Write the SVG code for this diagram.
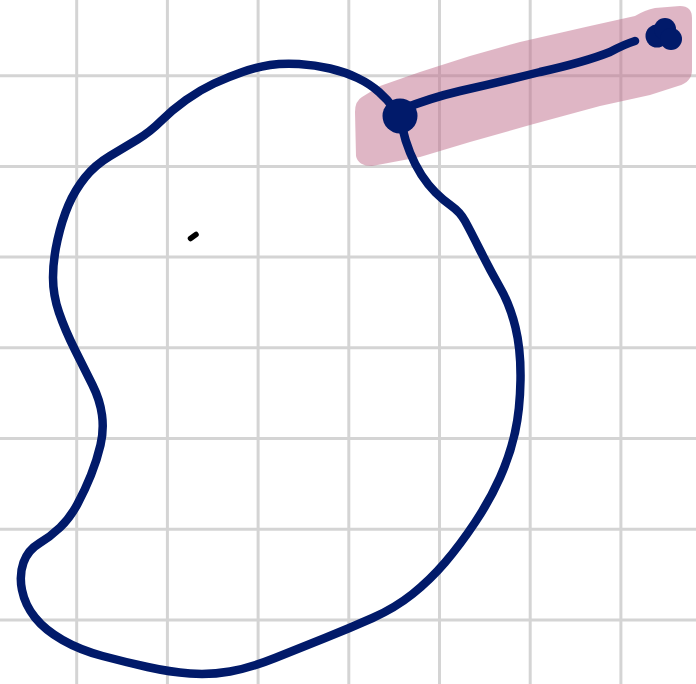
<svg xmlns="http://www.w3.org/2000/svg" width="696" height="684" viewBox="0 0 696 684">
<style>
.grid line{stroke:#d4d4d4;stroke-width:3}
.ink{fill:none;stroke:#011a6a;stroke-width:8.5;stroke-linecap:round;stroke-linejoin:round}
.dot{fill:#011a6a}
</style>
<rect width="696" height="684" fill="#ffffff"/>
<g class="grid" id="grid">
<line x1="76.7" y1="0" x2="76.7" y2="684"/>
<line x1="167.4" y1="0" x2="167.4" y2="684"/>
<line x1="258.1" y1="0" x2="258.1" y2="684"/>
<line x1="348.8" y1="0" x2="348.8" y2="684"/>
<line x1="439.5" y1="0" x2="439.5" y2="684"/>
<line x1="530.2" y1="0" x2="530.2" y2="684"/>
<line x1="620.9" y1="0" x2="620.9" y2="684"/>
<line x1="0" y1="75.7" x2="696" y2="75.7"/>
<line x1="0" y1="166.4" x2="696" y2="166.4"/>
<line x1="0" y1="257.1" x2="696" y2="257.1"/>
<line x1="0" y1="347.8" x2="696" y2="347.8"/>
<line x1="0" y1="438.5" x2="696" y2="438.5"/>
<line x1="0" y1="529.2" x2="696" y2="529.2"/>
<line x1="0" y1="619.9" x2="696" y2="619.9"/>
</g>
<g id="highlight">
<path d="M 362,97 Q 355,101 355,112 L 356,156 Q 358,166 372,166 L 420,157 L 470,142 L 530,125 L 600,106 L 650,95 L 678,86 Q 692,82 692,70 L 692,18 Q 692,6 680,6 L 655,8 Q 645,10 635,16 L 590,26 L 520,42 L 470,56 L 420,72 L 380,86 Z" fill="#bf6d8b" fill-opacity="0.5"/>
</g>
<g id="connectors">
<path class="ink" d="M 402.5,128.5 Q 400,117 394,108.5 Q 388,100 379,92 Q 370,84 357.5,78 Q 345,72 330,68.5 Q 315,65 299,64 Q 283,63 270,65 Q 257,67 242.5,72 Q 228,77 214,83.5 Q 200,90 186,100 Q 172,110 161,121 Q 150,132 137.5,139.5 Q 125,147 110,156 Q 95,165 85,177.5 Q 75,190 68.5,205 Q 62,220 57.5,240 Q 53,260 53,277.5 Q 53,295 59,312.5 Q 65,330 75,350 Q 85,370 92.5,385 Q 100,400 102,415 Q 104,430 100.5,445 Q 97,460 91,475 Q 85,490 77.5,504 Q 70,518 60,527.5 Q 50,537 39,543.5 Q 28,550 23.5,562.5 Q 19,575 22,590 Q 25,605 35,617.5 Q 45,630 62.5,640 Q 80,650 102.5,656 Q 125,662 147.5,667 Q 170,672 190,673.5 Q 210,675 230,671.5 Q 250,668 275,658 Q 300,648 325,638 Q 350,628 372.5,618 Q 395,608 412.5,594 Q 430,580 445,562.5 Q 460,545 475,522.5 Q 490,500 500,477.5 Q 510,455 515,432.5 Q 520,410 520.5,380 Q 521,350 515.5,327.5 Q 510,305 500,287.5 Q 490,270 480,250 Q 470,230 465,221 Q 460,212 451.5,206 Q 443,200 435.5,192.5 Q 428,185 421.5,175 Q 415,165 410,152.5 Q 405,140 402.5,128.5 Z"/>
<path class="ink" d="M 400,110 Q 430,98 460,91 Q 500,82 540,72 Q 585,62 610,52 Q 625,44 635,41"/>
<line x1="190.5" y1="238.5" x2="196" y2="234.5" stroke="#000" stroke-width="5.5" stroke-linecap="round"/>
</g>
<g id="node-a">
<circle class="dot" cx="400" cy="116" r="17.5"/>
</g>
<g id="node-b">
<circle class="dot" cx="657" cy="36" r="11.5"/>
<circle class="dot" cx="665" cy="29" r="11"/>
<circle class="dot" cx="671" cy="39" r="11"/>
</g>
</svg>
